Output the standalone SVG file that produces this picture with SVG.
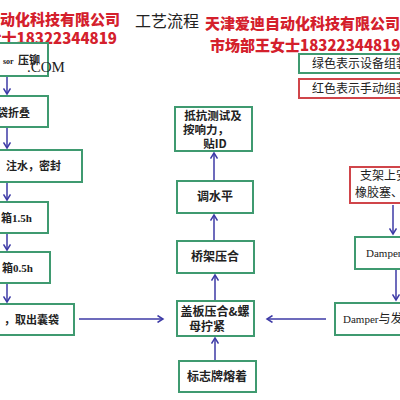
<svg xmlns="http://www.w3.org/2000/svg" width="400" height="400" viewBox="0 0 400 400">
<defs>
<marker id="arr" markerWidth="8" markerHeight="8" refX="6" refY="4" orient="auto" markerUnits="userSpaceOnUse">
<path d="M0.5,0.5 L6,4 L0.5,7.5" fill="none" stroke="#3d3aa6" stroke-width="1.5"/>
</marker>
<linearGradient id="bot" x1="0" x2="1" y1="0" y2="0">
<stop offset="0" stop-color="#e0603e"/>
<stop offset="0.5" stop-color="#ec9a8a"/>
<stop offset="1" stop-color="#f6d0cc"/>
</linearGradient>
<linearGradient id="top" x1="0" x2="1" y1="0" y2="0">
<stop offset="0" stop-color="#e89a9a"/>
<stop offset="1" stop-color="#f4c4c4"/>
</linearGradient>
</defs>
<style>
.g{fill:#fff;stroke:#3f9a70;stroke-width:2}
.r{fill:#fff;stroke:#d0454a;stroke-width:2}
.t{font-family:"Noto Sans CJK SC","Noto Sans",sans-serif;font-size:12px;font-weight:600;fill:#222}
.tl{font-family:"Noto Sans CJK SC","Noto Sans",sans-serif;font-size:11px;font-weight:600;fill:#222}
.lg{font-family:"Noto Sans CJK SC","Noto Sans",sans-serif;font-size:12px;fill:#222}
.red{font-family:"Noto Sans CJK SC","Noto Sans",sans-serif;font-size:15px;font-weight:900;fill:#d4202c}
.mono{font-family:"Liberation Serif",serif;font-size:11px;font-weight:700;fill:#222}
.c line{stroke:#3d3aa6;stroke-width:1.5;marker-end:url(#arr)}
</style>
<rect width="400" height="400" fill="#fff"/>
<!-- header -->
<line x1="133" y1="34" x2="400" y2="34" stroke="url(#top)" stroke-width="2"/>
<text x="120" y="25" text-anchor="end" class="red">天津爱迪自动化科技有限公司</text>
<text x="117" y="44" text-anchor="end" class="red">市场部王女士18322344819</text>
<text x="135" y="27" style="font-family:'Noto Sans CJK SC',serif;font-size:16px;fill:#222">工艺流程</text>
<text x="205" y="29" class="red">天津爱迪自动化科技有限公司</text>
<text x="210" y="51" class="red">市场部王女士18322344819</text>
<line x1="0" y1="394" x2="400" y2="394" stroke="url(#bot)" stroke-width="3"/>
<!-- legend -->
<g id="legend-green"><rect x="299" y="54" width="110" height="19" class="g"/><text x="312" y="68" class="lg">绿色表示设备组装</text></g>
<g id="legend-red"><rect x="299" y="79" width="110" height="19" class="r"/><text x="312" y="93" class="lg">红色表示手动组装</text></g>
<!-- left column -->
<g id="n1"><rect x="-10" y="43" width="58" height="33" class="g"/><text x="3" y="64" style="font-family:'Liberation Serif',serif;font-size:8px;font-weight:700;fill:#222">sor</text><text x="18" y="64" class="tl">压铆</text><text x="27" y="72" style="font-family:'Liberation Serif',serif;font-size:15px;fill:#222">.COM</text></g>
<g id="n2"><rect x="-10" y="96" width="58" height="31" class="g"/><text x="-3" y="117" class="tl">袋折叠</text></g>
<g id="n3"><rect x="-10" y="150" width="92" height="32" class="g"/><text x="-5" y="170" class="tl">，注水，密封</text></g>
<g id="n4"><rect x="-10" y="202" width="58" height="31" class="g"/><text x="1" y="222" class="tl">箱<tspan class="mono">1.5h</tspan></text></g>
<g id="n5"><rect x="-10" y="252" width="60" height="31" class="g"/><text x="2" y="272" class="tl">箱<tspan class="mono">0.5h</tspan></text></g>
<g id="n6"><rect x="-10" y="304" width="84" height="31" class="g"/><text x="4" y="324" class="tl">，取出囊袋</text></g>
<!-- center column -->
<g id="n7"><rect x="175" y="107" width="77" height="44" class="g"/><text x="213" y="120" text-anchor="middle" class="t" style="font-size:11.5px">抵抗测试及</text><text x="206" y="134" text-anchor="middle" class="t" style="font-size:11.5px">按响力，</text><text x="215" y="148" text-anchor="middle" class="t" style="font-size:11.5px">贴ID</text></g>
<g id="n8"><rect x="177" y="181" width="76" height="32" class="g"/><text x="215" y="201" text-anchor="middle" class="t">调水平</text></g>
<g id="n9"><rect x="177" y="241" width="77" height="32" class="g"/><text x="215" y="261" text-anchor="middle" class="t">桥架压合</text></g>
<g id="n10"><rect x="177" y="301" width="77" height="35" class="g"/><text x="215" y="316" text-anchor="middle" class="t">盖板压合&amp;螺</text><text x="207" y="331" text-anchor="middle" class="t">母拧紧</text></g>
<g id="n11"><rect x="179" y="361" width="77" height="31" class="g"/><text x="217" y="381" text-anchor="middle" class="t">标志牌熔着</text></g>
<!-- right column -->
<g id="n12"><rect x="350" y="167" width="60" height="36" class="r"/><text x="360" y="180" class="t" style="font-weight:400">支架上安</text><text x="355" y="197" class="t" style="font-weight:400">橡胶塞、</text></g>
<g id="n13"><rect x="355" y="237" width="55" height="32" class="g"/><text x="366" y="257" class="mono" style="font-weight:400">Damper</text></g>
<g id="n14"><rect x="335" y="303" width="75" height="32" class="g"/><text x="343" y="323" class="mono" style="font-weight:400">Damper<tspan class="t" style="font-weight:400">与发</tspan></text></g>
<!-- connectors -->
<g id="connectors" class="c">
<line x1="7" y1="77" x2="7" y2="94"/>
<line x1="7" y1="128" x2="7" y2="148"/>
<line x1="7" y1="183" x2="7" y2="200"/>
<line x1="7" y1="234" x2="7" y2="250"/>
<line x1="7" y1="284" x2="7" y2="302"/>
<line x1="79" y1="319" x2="163" y2="319"/>
<line x1="326" y1="319" x2="267" y2="319"/>
<line x1="215" y1="360" x2="215" y2="338"/>
<line x1="215" y1="300" x2="215" y2="275"/>
<line x1="214" y1="240" x2="214" y2="215"/>
<line x1="214" y1="180" x2="214" y2="153"/>
<line x1="393" y1="205" x2="393" y2="234"/>
<line x1="396" y1="270" x2="396" y2="300"/>
</g>
</svg>
